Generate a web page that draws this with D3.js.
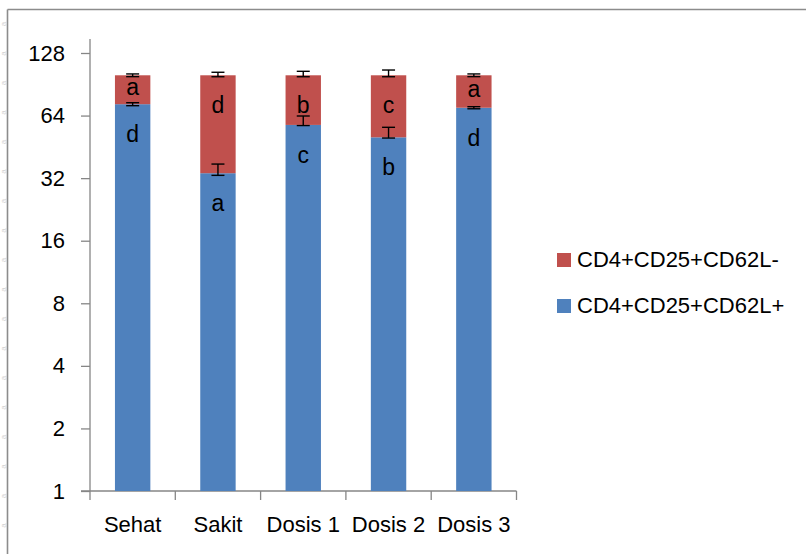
<!DOCTYPE html>
<html>
<head>
<meta charset="utf-8">
<script src="https://cdn.jsdelivr.net/npm/d3@7/dist/d3.min.js"></script>
<style>
  html, body { margin: 0; padding: 0; background: #fff; }
  svg { display: block; }
  text { font-family: "Liberation Sans", "DejaVu Sans", sans-serif; fill: #000; }
</style>
</head>
<body>
<svg id="chart" width="806" height="554"></svg>
<script>
// Groups and stacked percentages (blue bottom, red top)
const categories = ["Sehat", "Sakit", "Dosis 1", "Dosis 2", "Dosis 3"];
const seriesNames = ["CD4+CD25+CD62L+", "CD4+CD25+CD62L-"];
const cd62lPos = [72.6, 33.8, 57.7, 50.3, 69.8];
const cd62lNeg = [27.4, 66.2, 42.3, 49.7, 30.2];

// Error bar extents (up / down) at each segment top
const posErrUp = [1.2, 3.6, 6.0, 5.9, 0.8];
const posErrDown = [1.2, 0.8, 0.4, 0.4, 0.8];
const negErrUp = [1.5, 3.4, 4.5, 6.0, 1.5];
const negErrDown = [1.5, 1.6, 1.6, 1.6, 1.5];

// Significance letters
const posLetters = ["d", "a", "c", "b", "d"];
const negLetters = ["a", "d", "b", "c", "a"];

const yTicks = [1, 2, 4, 8, 16, 32, 64, 128];

const colors = { pos: "#4F81BD", neg: "#C0504D" };
const axisColor = "#868686";

const svg = d3.select("#chart");

// Faint sideways glyphs along the left margin
svg.append("g").selectAll("text").data(d3.range(18)).join("text")
  .attr("transform", i => `translate(5.5,${24 + i * 29.5}) rotate(-90)`)
  .attr("text-anchor", "middle").attr("font-size", 8)
  .style("fill", "#d2d2d2").text("a");

// Outer frame (top and left edges)
svg.append("line").attr("x1", 7.5).attr("x2", 806).attr("y1", 9.5).attr("y2", 9.5)
  .attr("stroke", "#8c8c8c").attr("stroke-width", 1.6);
svg.append("line").attr("x1", 7.5).attr("x2", 7.5).attr("y1", 9.5).attr("y2", 554)
  .attr("stroke", "#8c8c8c").attr("stroke-width", 1.6);

const x = d3.scaleBand().domain(categories).range([90, 516.5]).paddingInner(0.585).paddingOuter(0.2925);
const y = d3.scaleLog().base(2).domain([1, 128]).range([491, 53]);

// Y axis
const yAxis = svg.append("g").attr("transform", "translate(90,0)")
  .call(d3.axisLeft(y).tickValues(yTicks).tickFormat(d3.format("d")).tickSize(9).tickPadding(16));
yAxis.select(".domain").remove();
yAxis.selectAll(".tick line").attr("stroke", axisColor).attr("stroke-width", 1.3);
yAxis.selectAll(".tick text").attr("font-size", 22).style("font-family", '"Liberation Sans", sans-serif');
svg.append("line").attr("x1", 90).attr("x2", 90).attr("y1", 39).attr("y2", 491)
  .attr("stroke", axisColor).attr("stroke-width", 1.3);

// X axis (ticks at category boundaries)
const step = x.step();
const x0 = x.range()[0];
svg.append("line").attr("x1", 81).attr("x2", 516.5).attr("y1", 491).attr("y2", 491)
  .attr("stroke", axisColor).attr("stroke-width", 1.3);
svg.append("g").selectAll("line").data(d3.range(categories.length + 1)).join("line")
  .attr("x1", i => x0 + i * step).attr("x2", i => x0 + i * step)
  .attr("y1", 491).attr("y2", 500)
  .attr("stroke", axisColor).attr("stroke-width", 1.3);
svg.append("g").selectAll("text").data(categories).join("text")
  .attr("x", d => x(d) + x.bandwidth() / 2).attr("y", 532)
  .attr("text-anchor", "middle").attr("font-size", 22).text(d => d);

// Stacked bars
const rows = categories.map((c, i) => ({ cat: c, pos: cd62lPos[i], neg: cd62lNeg[i], i }));
const stack = d3.stack().keys(["pos", "neg"])(rows);

stack.forEach(layer => {
  svg.append("g").selectAll("rect").data(layer).join("rect")
    .attr("x", d => x(d.data.cat))
    .attr("width", x.bandwidth())
    .attr("y", d => y(d[1]))
    .attr("height", d => y(Math.max(d[0], 1)) - y(d[1]))
    .attr("fill", colors[layer.key]);
});

// Letters inside segments
function letterY(lo, hi) {
  const top = y(hi), bot = y(Math.max(lo, 1));
  return (bot - top) > 45 ? top + 38 : (top + bot) / 2 + 5;
}
const posLayer = stack[0], negLayer = stack[1];
svg.append("g").selectAll("text").data(posLayer).join("text")
  .attr("x", d => x(d.data.cat) + x.bandwidth() / 2)
  .attr("y", d => letterY(d[0], d[1]))
  .attr("text-anchor", "middle").attr("font-size", 23)
  .text((d, i) => posLetters[i]);
svg.append("g").selectAll("text").data(negLayer).join("text")
  .attr("x", d => x(d.data.cat) + x.bandwidth() / 2)
  .attr("y", d => letterY(d[0], d[1]))
  .attr("text-anchor", "middle").attr("font-size", 23)
  .text((d, i) => negLetters[i]);

// Error bars
function errorBars(layer, up, down) {
  const g = svg.append("g").attr("stroke", "#000").attr("stroke-width", 1.4);
  layer.forEach((d, i) => {
    const cx = x(d.data.cat) + x.bandwidth() / 2;
    const yHi = y(d[1] + up[i]), yLo = y(d[1] - down[i]);
    g.append("line").attr("x1", cx).attr("x2", cx).attr("y1", yHi).attr("y2", yLo);
    g.append("line").attr("x1", cx - 6.5).attr("x2", cx + 6.5).attr("y1", yHi).attr("y2", yHi);
    g.append("line").attr("x1", cx - 6.5).attr("x2", cx + 6.5).attr("y1", yLo).attr("y2", yLo);
  });
}
errorBars(posLayer, posErrUp, posErrDown);
errorBars(negLayer, negErrUp, negErrDown);

// Legend (red entry first)
const legendItems = [
  { name: seriesNames[1], color: colors.neg },
  { name: seriesNames[0], color: colors.pos }
];
const lg = svg.append("g").selectAll("g").data(legendItems).join("g")
  .attr("transform", (d, i) => `translate(557,${253 + i * 46})`);
lg.append("rect").attr("width", 14).attr("height", 14).attr("fill", d => d.color);
lg.append("text").attr("x", 20).attr("y", 14).attr("font-size", 22).text(d => d.name);
</script>
</body>
</html>
